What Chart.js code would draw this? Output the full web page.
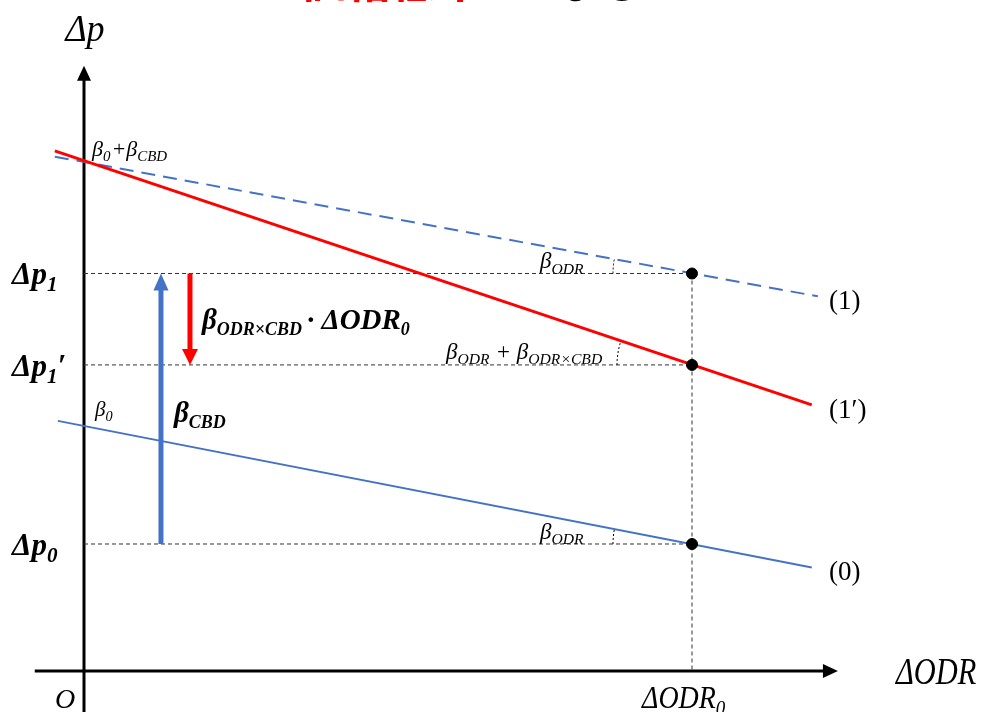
<!DOCTYPE html>
<html><head><meta charset="utf-8">
<script src="https://cdn.jsdelivr.net/npm/chart.js@4"></script>
<style>html,body{margin:0;padding:0;background:#fff;overflow:hidden}canvas{display:block}</style>
</head><body>
<canvas id="c" width="984" height="712"></canvas>
<script>
// ---- data (diagram units: ΔODR on x, Δp on y) ----
const odr0 = 10;                       // ΔODR₀
const levels = [6.26, 4.82, 2.0];      // Δp1, Δp1', Δp0
const levelNames = ['1', '1', '0'];
const line1X = [-0.48, 12.07], line1Y = [8.10, 5.90];    // (1)  dashed
const line1pX = [-0.48, 11.97], line1pY = [8.19, 4.19];  // (1') red
const line0X = [-0.43, 11.97], line0Y = [3.94, 1.63];    // (0)  blue
const lineNames = ['(1)', '(1′)', '(0)'];
const xAxisRange = [-0.81, 12.40];
const yAxisRange = [-0.70, 9.53];
const xView = [-1.3816, 14.8026];
const yView = [-0.6457, 10.567];

const BLUE = '#4472C4', RED = '#FF0000';
const SERIF = '"Liberation Serif", "DejaVu Serif", serif';

function pts(xs, ys){ return xs.map((x,i)=>({x, y: ys[i]})); }

function rich(ctx, x, y, parts, size, o){
  o = o || {};
  const st = (o.italic===false?'':'italic ') + (o.bold?'bold ':'');
  const fam = o.family || SERIF;
  const sub = o.subScale || 0.68;
  const sx = o.sx || 1;
  let w = 0;
  const seg = parts.map(p=>{
    const s = p[1]==='s' ? size*sub : size;
    ctx.font = st + s + 'px ' + fam;
    const m = ctx.measureText(p[0]).width;
    w += m + (p[2]||0);
    return {t:p[0], s, m, k:p[1], g:p[2]||0};
  });
  w *= sx;
  let cx = o.align==='right' ? x - w : o.align==='center' ? x - w/2 : x;
  ctx.save();
  ctx.translate(cx, 0); ctx.scale(sx, 1);
  ctx.fillStyle = o.color || '#000';
  ctx.textBaseline = 'alphabetic';
  ctx.textAlign = 'left';
  let lx = 0;
  seg.forEach(sg=>{
    ctx.font = st + sg.s + 'px ' + fam;
    ctx.fillText(sg.t, lx, sg.k==='s' ? y + size*0.22 : y);
    lx += sg.m + sg.g;
  });
  ctx.restore();
}

function arrowV(ctx, x, y0, y1, color, w, headW, headL){
  const dir = y1 < y0 ? -1 : 1;
  ctx.save();
  ctx.strokeStyle = color; ctx.fillStyle = color; ctx.lineWidth = w;
  ctx.beginPath(); ctx.moveTo(x, y0); ctx.lineTo(x, y1 - dir*headL*0.8); ctx.stroke();
  ctx.beginPath(); ctx.moveTo(x, y1); ctx.lineTo(x - headW/2, y1 - dir*headL); ctx.lineTo(x + headW/2, y1 - dir*headL); ctx.closePath(); ctx.fill();
  ctx.restore();
}

const diagram = {
  id: 'diagram',
  beforeDatasetsDraw(chart){
    const ctx = chart.ctx, xs = chart.scales.x, ys = chart.scales.y;
    const ox = xs.getPixelForValue(0), oy = ys.getPixelForValue(0);
    ctx.save();
    ctx.strokeStyle = '#000'; ctx.fillStyle = '#000'; ctx.lineWidth = 3;
    const xl = xs.getPixelForValue(xAxisRange[0]), xr = xs.getPixelForValue(xAxisRange[1]);
    ctx.beginPath(); ctx.moveTo(xl, oy); ctx.lineTo(xr - 10, oy); ctx.stroke();
    ctx.beginPath(); ctx.moveTo(xr, oy); ctx.lineTo(xr - 15, oy - 7); ctx.lineTo(xr - 15, oy + 7); ctx.closePath(); ctx.fill();
    const yb = ys.getPixelForValue(yAxisRange[0]), yt = ys.getPixelForValue(yAxisRange[1]);
    ctx.beginPath(); ctx.moveTo(ox, yb); ctx.lineTo(ox, yt + 10); ctx.stroke();
    ctx.beginPath(); ctx.moveTo(ox, yt); ctx.lineTo(ox - 7, yt + 15); ctx.lineTo(ox + 7, yt + 15); ctx.closePath(); ctx.fill();
    ctx.restore();
  },
  afterDatasetsDraw(chart){
    const ctx = chart.ctx, xs = chart.scales.x, ys = chart.scales.y;
    const ox = xs.getPixelForValue(0);
    const px10 = xs.getPixelForValue(odr0);
    const Ly = levels.map(v=>ys.getPixelForValue(v));

    // angle arcs
    ctx.save();
    ctx.strokeStyle = '#000'; ctx.lineWidth = 1; ctx.setLineDash([2,2]);
    [[line1X,line1Y,0,79],[line1pX,line1pY,1,75],[line0X,line0Y,2,79]].forEach(([lx,ly,i,r])=>{
      const ax = xs.getPixelForValue(lx[0]), ay = ys.getPixelForValue(ly[0]);
      const bx = xs.getPixelForValue(lx[1]), by = ys.getPixelForValue(ly[1]);
      const a = Math.atan2(by-ay, bx-ax);
      ctx.beginPath(); ctx.arc(px10, Ly[i], r, Math.PI, Math.PI + a); ctx.stroke();
    });
    ctx.restore();

    // vertical arrows
    const bx = xs.getPixelForValue(1.266), rx = xs.getPixelForValue(1.743);
    arrowV(ctx, bx, Ly[2], Ly[0], BLUE, 5, 15, 17);
    arrowV(ctx, rx, Ly[0], Ly[1], RED, 5, 16, 16);

    // axis names
    rich(ctx, ox + 1, 41, [['Δp','n']], 38, {align:'center', sx:0.95});
    rich(ctx, 896, 684, [['ΔODR','n']], 38, {sx:0.8});
    rich(ctx, 55, 708, [['O','n']], 28, {});
    rich(ctx, px10 - 50, 708, [['ΔODR','n'],['0','s']], 31, {sx:0.9});

    // level labels
    levels.forEach((v,i)=>{
      const parts = [['Δp','n'],[levelNames[i],'s']];
      if (i===1) parts.push(['′','n']);
      rich(ctx, ox - 72, Ly[i] + 11, parts, 31, {bold:true});
    });

    // coefficient labels
    rich(ctx, ox + 8, 156, [['β','n'],['0','s',1],['+β','n'],['CBD','s']], 22, {});
    rich(ctx, ox + 11, 416, [['β','n'],['0','s']], 21, {});
    rich(ctx, rx + 12, 329, [['β','n'],['ODR×CBD','s',5],['· ΔODR','n'],['0','s']], 29, {bold:true, subScale:0.62});
    rich(ctx, bx + 13, 422, [['β','n'],['CBD','s']], 29, {bold:true, subScale:0.62});
    rich(ctx, 540, Ly[0] - 5, [['β','n'],['ODR','s']], 23, {});
    rich(ctx, 446, Ly[1] - 6, [['β','n'],['ODR','s',6],['+ β','n'],['ODR×CBD','s']], 23, {});
    rich(ctx, 540, Ly[2] - 5, [['β','n'],['ODR','s']], 23, {});

    // line names
    const ends = [[line1X,line1Y],[line1pX,line1pY],[line0X,line0Y]];
    ends.forEach(([lx,ly],i)=>{
      const yy = ys.getPixelForValue(ly[1]);
      rich(ctx, 829, yy + 13, [[lineNames[i],'n']], 27, {italic:false});
    });

    // clipped heading at very top
    ctx.save();
    ctx.textBaseline = 'alphabetic'; ctx.textAlign = 'left';
    ctx.font = 'bold 46px "Noto Sans CJK JP"';
    ctx.fillStyle = RED; ctx.fillText('価格低下', 300, -3);
    ctx.font = '46px "Noto Sans CJK JP"';
    ctx.fillStyle = '#000'; ctx.fillText('となる', 506, -2);
    ctx.restore();
  }
};

new Chart(document.getElementById('c'), {
  type: 'scatter',
  data: {
    datasets: [
      { label:'dots', data: levels.map(v=>({x: odr0, y: v})), showLine:false,
        pointRadius:5.5, pointBackgroundColor:'#000', pointBorderColor:'#000', order:0 },
      { label:'(1)', data: pts(line1X, line1Y), showLine:true, borderColor:BLUE, borderWidth:2,
        borderDash:[14,8], pointRadius:0, order:2 },
      { label:'(1′)', data: pts(line1pX, line1pY), showLine:true, borderColor:RED, borderWidth:3,
        pointRadius:0, order:1 },
      { label:'(0)', data: pts(line0X, line0Y), showLine:true, borderColor:BLUE, borderWidth:1.8,
        pointRadius:0, order:1 },
      ...levels.map((v,i)=>({ label:'g'+i, data:[{x:0,y:v},{x:odr0,y:v}], showLine:true,
        borderColor:'#333', borderWidth:1, borderDash:[4,3], pointRadius:0, order:3 })),
      { label:'gv', data:[{x:odr0,y:levels[0]},{x:odr0,y:0}], showLine:true,
        borderColor:'#333', borderWidth:1, borderDash:[4,3], pointRadius:0, order:3 }
    ]
  },
  options: {
    responsive:false, animation:false, events:[],
    layout:{ padding:0, autoPadding:false },
    plugins:{ legend:{display:false}, tooltip:{enabled:false} },
    scales:{
      x:{ type:'linear', display:false, min:xView[0], max:xView[1] },
      y:{ type:'linear', display:false, min:yView[0], max:yView[1] }
    }
  },
  plugins:[diagram]
});
</script>
</body></html>
